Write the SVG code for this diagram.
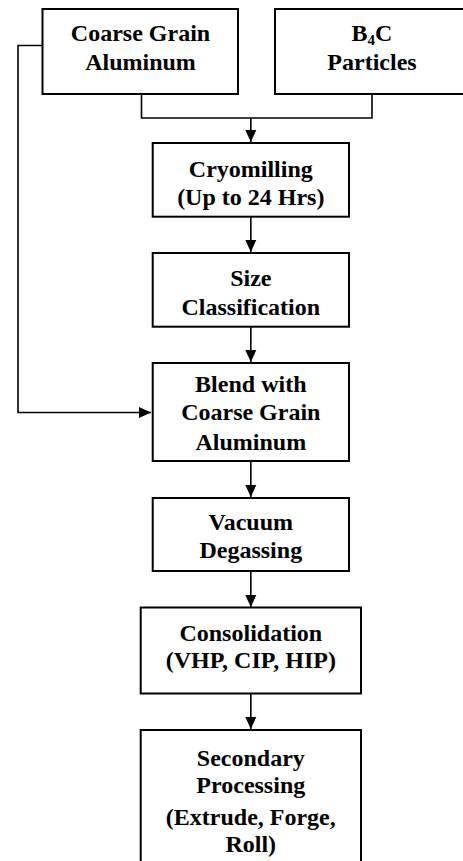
<svg xmlns="http://www.w3.org/2000/svg" width="463" height="861" viewBox="0 0 463 861">
<style>
.box{fill:#fff;stroke:#000;stroke-width:2}
.t{font-family:'Liberation Serif',Tinos,'Times New Roman',Times,'DejaVu Serif',serif;font-weight:bold;font-size:24px;text-anchor:middle;fill:#000}
.c{fill:none;stroke:#000;stroke-width:1.6}
</style>
<defs>
<marker id="ah" markerWidth="12" markerHeight="12" refX="12" refY="6" orient="auto" markerUnits="userSpaceOnUse">
<path d="M0,0.5 L12,6 L0,11.5 Z" fill="#000"/>
</marker>
</defs>
<rect width="463" height="861" fill="#fff"/>
<g id="connectors">
<path class="c" d="M42,45.5 H18 V412.5 H151" marker-end="url(#ah)"/>
<path class="c" d="M141.5,94 V118 H372 V94"/>
<path class="c" d="M250.8,118 V142" marker-end="url(#ah)"/>
<path class="c" d="M250.8,217 V252" marker-end="url(#ah)"/>
<path class="c" d="M250.8,327 V362" marker-end="url(#ah)"/>
<path class="c" d="M250.8,461 V497" marker-end="url(#ah)"/>
<path class="c" d="M250.8,571 V607" marker-end="url(#ah)"/>
<path class="c" d="M250.8,693 V729" marker-end="url(#ah)"/>
</g>
<g id="coarse">
<rect class="box" x="42.5" y="9" width="195.5" height="85"/>
<text class="t" x="140.5" y="41">Coarse Grain</text>
<text class="t" x="140.5" y="70">Aluminum</text>
</g>
<g id="b4c">
<rect class="box" x="275" y="9" width="200" height="85"/>
<text class="t" x="372" y="41">B<tspan font-size="15" dy="4">4</tspan><tspan dy="-4">C</tspan></text>
<text class="t" x="372" y="70">Particles</text>
</g>
<g id="cryo">
<rect class="box" x="152.7" y="143" width="196.3" height="73.7"/>
<text class="t" x="250.8" y="177">Cryomilling</text>
<text class="t" x="250.8" y="205">(Up to 24 Hrs)</text>
</g>
<g id="size">
<rect class="box" x="152.7" y="253" width="196.3" height="73.7"/>
<text class="t" x="250.8" y="286">Size</text>
<text class="t" x="250.8" y="315">Classification</text>
</g>
<g id="blend">
<rect class="box" x="152.7" y="363" width="196.3" height="98"/>
<text class="t" x="250.8" y="392">Blend with</text>
<text class="t" x="250.8" y="420">Coarse Grain</text>
<text class="t" x="250.8" y="450">Aluminum</text>
</g>
<g id="vacuum">
<rect class="box" x="152.7" y="498" width="196.3" height="73"/>
<text class="t" x="250.8" y="530">Vacuum</text>
<text class="t" x="250.8" y="558">Degassing</text>
</g>
<g id="consolidation">
<rect class="box" x="140.7" y="607.5" width="220.3" height="86"/>
<text class="t" x="250.8" y="641">Consolidation</text>
<text class="t" x="250.8" y="668">(VHP, CIP, HIP)</text>
</g>
<g id="secondary">
<rect class="box" x="140.7" y="730" width="220.3" height="150"/>
<text class="t" x="250.8" y="766">Secondary</text>
<text class="t" x="250.8" y="793">Processing</text>
<text class="t" x="250.8" y="825">(Extrude, Forge,</text>
<text class="t" x="250.8" y="852">Roll)</text>
</g>
</svg>
